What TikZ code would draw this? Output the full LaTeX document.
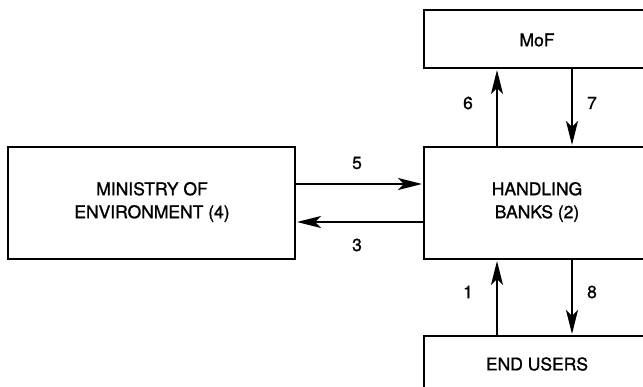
\documentclass[tikz,border=0pt]{standalone}
\usepackage{fontspec}
\setmainfont{TeX Gyre Heros}
\newfontfamily\lblfont{TeX Gyre Heros}[FakeBold=1.2]
\usetikzlibrary{arrows.meta}
\begin{document}
\begin{tikzpicture}[x=1pt,y=-1pt,
  box/.style={draw=black,line width=1.2pt},
  lbl/.style={font=\lblfont\fontsize{17.5}{21}\selectfont,align=center,inner sep=0pt},
  flow/.style={line width=2.2pt,-{Stealth[length=24pt,width=12pt,inset=6pt]}}]
\useasboundingbox (0,0) rectangle (643,387);
% boxes
\draw[box] (424,10) rectangle (660,68);
\draw[box] (424,147) rectangle (660,259);
\draw[box] (8,147) rectangle (295,259);
\draw[box] (424,336) rectangle (660,400);
\node[lbl] (mof) at (537,40) {MoF};
\node[lbl] (hb) at (537,202) {HANDLING\\[2pt]BANKS (2)};
\node[lbl] (me) at (152,202) {MINISTRY OF\\[2pt]ENVIRONMENT (4)};
\node[lbl] (eu) at (537,364) {END USERS};
% anchor coordinates
\coordinate (hbT6) at (497,147); \coordinate (mofB6) at (497,70);
\coordinate (mofB7) at (572,68); \coordinate (hbT7) at (572,145);
\coordinate (euT1) at (497,336); \coordinate (hbB1) at (497,261);
\coordinate (hbB8) at (572,259); \coordinate (euT8) at (572,334);
\coordinate (meR5) at (295,184); \coordinate (hbL5) at (422,184);
\coordinate (hbL3) at (424,222); \coordinate (meR3) at (297,222);
\draw[flow] (hbT6) -- (mofB6);
\draw[flow] (mofB7) -- (hbT7);
\draw[flow] (euT1) -- (hbB1);
\draw[flow] (hbB8) -- (euT8);
\draw[flow] (meR5) -- (hbL5);
\draw[flow] (hbL3) -- (meR3);
\node[lbl] (l6) at (468,103) {6};
\node[lbl] (l7) at (592,103) {7};
\node[lbl] (l1) at (468,292) {1};
\node[lbl] (l8) at (592,292) {8};
\node[lbl] (l5) at (357,163) {5};
\node[lbl] (l3) at (357,245) {3};
\end{tikzpicture}
\end{document}
